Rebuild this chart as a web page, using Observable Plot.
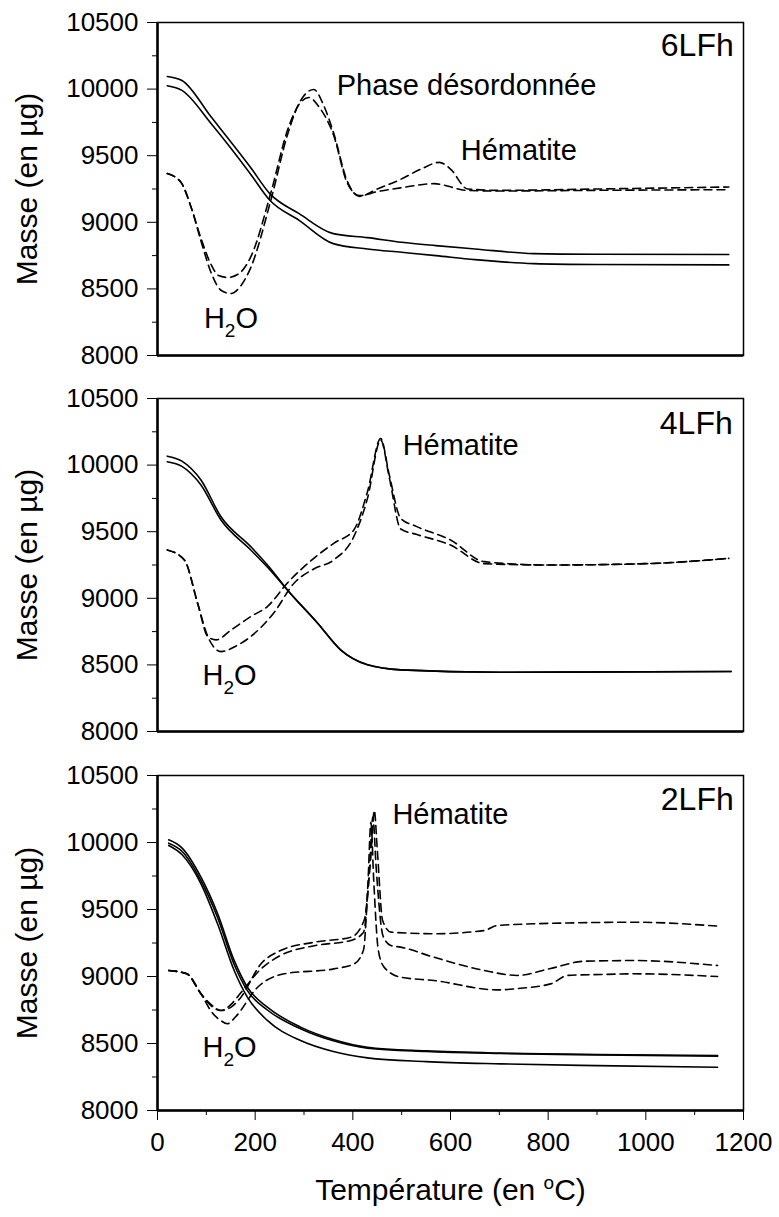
<!DOCTYPE html>
<html><head><meta charset="utf-8">
<script src="https://cdn.jsdelivr.net/npm/d3@7"></script>
<script src="https://cdn.jsdelivr.net/npm/@observablehq/plot@0.6"></script>
<style>
body{margin:0;background:#fff}
#chart svg{display:block;background:#fff}
</style>
</head><body><div id="chart"></div>
<script>
// ---------- data ----------
const panels = ["6LFh", "4LFh", "2LFh"];
const yMajor = [8000, 8500, 9000, 9500, 10000, 10500];
const yMinor = [8250, 8750, 9250, 9750, 10250];
const xMajor = [0, 200, 400, 600, 800, 1000, 1200];
const xMinor = [100, 300, 500, 700, 900, 1100];

// 6LFh
const T6_s1 = [20, 50, 110, 190, 230, 290, 360, 430, 500, 570, 650, 770, 900, 1170];
const M6_s1 = [10095, 10065, 9790, 9415, 9215, 9065, 8915, 8885, 8850, 8825, 8800, 8765, 8760, 8758];
const T6_s2 = [20, 50, 110, 190, 230, 290, 360, 430, 500, 570, 650, 770, 900, 1170];
const M6_s2 = [10025, 9990, 9740, 9365, 9165, 9015, 8840, 8800, 8775, 8750, 8720, 8690, 8683, 8680];
const T6_d1 = [20, 48, 70, 89, 110, 130, 150, 170, 191, 232, 267, 293, 320, 340, 361, 388, 414, 450, 493, 540, 577, 600, 635, 700, 900, 1170];
const M6_d1 = [9366, 9300, 9100, 8860, 8620, 8490, 8465, 8520, 8660, 9164, 9667, 9914, 9997, 9880, 9667, 9314, 9195, 9250, 9314, 9400, 9450, 9400, 9250, 9240, 9250, 9265];
const T6_d2 = [20, 48, 70, 89, 110, 125, 144, 165, 191, 232, 267, 293, 310, 330, 361, 388, 414, 450, 500, 566, 635, 700, 900, 1170];
const M6_d2 = [9366, 9300, 9100, 8880, 8680, 8600, 8586, 8610, 8740, 9220, 9700, 9900, 9937, 9870, 9650, 9300, 9200, 9230, 9260, 9290, 9239, 9235, 9240, 9245];

// 4LFh
const T4_s1 = [20, 50, 89, 130, 191, 230, 266, 328, 375, 430, 498, 700, 1175];
const M4_s1 = [10067, 10030, 9888, 9612, 9388, 9230, 9063, 8813, 8613, 8501, 8463, 8445, 8450];
const T4_s2 = [20, 50, 89, 130, 191, 230, 266, 328, 375, 430, 498, 700, 1175];
const M4_s2 = [10025, 9990, 9850, 9588, 9363, 9215, 9063, 8813, 8613, 8501, 8463, 8445, 8450];
const T4_d1 = [20, 55, 82, 103, 130, 160, 191, 238, 280, 320, 361, 402, 430, 457, 475, 498, 530, 600, 669, 800, 1000, 1170];
const M4_d1 = [9363, 9288, 8965, 8713, 8600, 8640, 8713, 8890, 9115, 9220, 9288, 9463, 9750, 10188, 9900, 9520, 9480, 9400, 9260, 9250, 9260, 9300];
const T4_d2 = [20, 55, 82, 103, 120, 150, 191, 225, 266, 320, 361, 402, 430, 457, 475, 498, 530, 600, 669, 800, 1000, 1170];
const M4_d2 = [9363, 9288, 8965, 8713, 8688, 8760, 8863, 8938, 9115, 9300, 9413, 9513, 9800, 10200, 9920, 9600, 9540, 9438, 9275, 9250, 9260, 9300];

// 2LFh
const T2_s1 = [23, 50, 89, 123, 157, 184, 225, 293, 360, 430, 550, 703, 900, 1147];
const M2_s1 = [10020, 9960, 9741, 9470, 9120, 8920, 8771, 8622, 8530, 8472, 8445, 8428, 8418, 8410];
const T2_s2 = [23, 50, 89, 123, 157, 184, 225, 293, 360, 430, 550, 703, 900, 1147];
const M2_s2 = [9995, 9935, 9715, 9440, 9090, 8895, 8750, 8610, 8520, 8465, 8440, 8425, 8415, 8405];
const T2_s3 = [23, 50, 89, 123, 157, 184, 225, 293, 360, 430, 550, 703, 900, 1147];
const M2_s3 = [9978, 9910, 9692, 9393, 9045, 8846, 8672, 8522, 8440, 8393, 8365, 8348, 8335, 8323];
const T2_d1 = [23, 60, 89, 110, 130, 150, 171, 212, 252, 321, 396, 423, 437, 444, 450, 461, 478, 566, 669, 696, 850, 976, 1147];
const M2_d1 = [9045, 9020, 8871, 8790, 8746, 8770, 8846, 9095, 9194, 9256, 9293, 9418, 9900, 10239, 9950, 9418, 9331, 9319, 9343, 9381, 9400, 9405, 9376];
const T2_d2 = [23, 60, 89, 110, 130, 150, 171, 212, 252, 321, 396, 422, 434, 441, 448, 462, 478, 498, 566, 669, 737, 805, 874, 976, 1147];
const M2_d2 = [9045, 9020, 8871, 8780, 8746, 8790, 8880, 9057, 9157, 9230, 9269, 9330, 9800, 10190, 9800, 9300, 9231, 9219, 9144, 9045, 9008, 9060, 9114, 9119, 9082];
const T2_d3 = [23, 60, 89, 110, 130, 143, 160, 205, 259, 361, 403, 422, 431, 437, 443, 452, 464, 498, 566, 696, 737, 805, 840, 908, 976, 1147];
const M2_d3 = [9045, 9020, 8871, 8740, 8670, 8647, 8700, 8920, 9020, 9057, 9095, 9200, 9700, 10150, 9700, 9200, 9070, 8995, 8970, 8900, 8910, 8945, 9008, 9015, 9020, 9000];

// annotations (panel, T, mass, text)
const annPanel = ["6LFh", "6LFh", "6LFh", "6LFh", "4LFh", "4LFh", "4LFh", "2LFh", "2LFh", "2LFh"];
const annT     = [1180, 367, 621, 95, 1178, 502, 92, 1180, 481, 92];
const annM     = [10252, 9952, 9464, 8203, 10237, 10075, 8351, 10239, 10139, 8398];
const annText  = ["6LFh", "Phase désordonnée", "Hématite", "H2O", "4LFh", "Hématite", "H2O", "2LFh", "Hématite", "H2O"];

const yTitle = "Masse (en µg)";
const xTitle = "Température (en oC)";

// ---------- build ----------
function series(panel, id, dashed, T, M) {
  return T.map((t, i) => ({panel, id, dashed, T: t, M: M[i]}));
}
const rows = [
  ...series("6LFh", "s1", false, T6_s1, M6_s1), ...series("6LFh", "s2", false, T6_s2, M6_s2),
  ...series("6LFh", "d1", true, T6_d1, M6_d1), ...series("6LFh", "d2", true, T6_d2, M6_d2),
  ...series("4LFh", "s1", false, T4_s1, M4_s1), ...series("4LFh", "s2", false, T4_s2, M4_s2),
  ...series("4LFh", "d1", true, T4_d1, M4_d1), ...series("4LFh", "d2", true, T4_d2, M4_d2),
  ...series("2LFh", "s1", false, T2_s1, M2_s1), ...series("2LFh", "s2", false, T2_s2, M2_s2),
  ...series("2LFh", "s3", false, T2_s3, M2_s3),
  ...series("2LFh", "d1", true, T2_d1, M2_d1), ...series("2LFh", "d2", true, T2_d2, M2_d2),
  ...series("2LFh", "d3", true, T2_d3, M2_d3)
];
const anns = annText.map((t, i) => ({panel: annPanel[i], T: annT[i], M: annM[i], text: t, isName: panels.includes(t)}));

const FONT = "'Liberation Sans', Arial, Helvetica, sans-serif";
const layout = {
  "6LFh": {height: 376, marginTop: 22, marginBottom: 21, showX: false},
  "4LFh": {height: 377, marginTop: 22, marginBottom: 22, showX: false},
  "2LFh": {height: 464, marginTop: 22, marginBottom: 107, showX: true}
};

const chart = document.getElementById("chart");
for (const p of panels) {
  const L = layout[p];
  const data = rows.filter(d => d.panel === p);
  const a = anns.filter(d => d.panel === p);
  const marks = [
    Plot.axisY({ticks: yMajor, tickSize: 10, tickPadding: 9, fontSize: 26, label: null, tickFormat: d => String(d)}),
    Plot.axisY({ticks: yMinor, tickSize: 5, label: null, tickFormat: () => ""}),
    Plot.frame({stroke: "black", strokeWidth: 1.5}),
    Plot.ruleX([0], {stroke: "black", strokeWidth: 2.5}),
    Plot.ruleY([8000], {stroke: "black", strokeWidth: 2.5}),
    Plot.line(data.filter(d => !d.dashed), {x: "T", y: "M", z: "id", stroke: "black", strokeWidth: 1.6, curve: "monotone-x"}),
    Plot.line(data.filter(d => d.dashed), {x: "T", y: "M", z: "id", stroke: "black", strokeWidth: 1.6, strokeDasharray: "8,5", curve: "monotone-x"}),
    Plot.text(a.filter(d => !d.isName), {x: "T", y: "M", text: "text", textAnchor: "start", lineAnchor: "bottom", fontSize: 29, fill: "black"}),
    Plot.text(a.filter(d => d.isName), {x: "T", y: "M", text: "text", textAnchor: "end", lineAnchor: "bottom", fontSize: 32, fill: "black"}),
    Plot.text([yTitle], {frameAnchor: "left", dx: -130, rotate: -90, textAnchor: "middle", lineAnchor: "middle", fontSize: 30, fill: "black"})
  ];
  if (L.showX) {
    marks.push(
      Plot.axisX({ticks: xMajor, tickSize: 10, tickPadding: 12, fontSize: 26, label: null, tickFormat: d => String(d)}),
      Plot.axisX({ticks: xMinor, tickSize: 5, label: null, tickFormat: () => ""}),
      Plot.text([xTitle], {frameAnchor: "bottom", dy: 80, textAnchor: "middle", lineAnchor: "middle", fontSize: 30, fill: "black"})
    );
  }
  const svg = Plot.plot({
    width: 779,
    height: L.height,
    marginLeft: 157,
    marginRight: 36,
    marginTop: L.marginTop,
    marginBottom: L.marginBottom,
    style: {fontFamily: FONT, color: "black", background: "white"},
    x: {domain: [0, 1200], axis: L.showX ? undefined : null},
    y: {domain: [8000, 10500]},
    marks
  });
  // subscripts / superscripts as real text
  svg.querySelectorAll("text").forEach(t => {
    if (t.textContent === "H2O") {
      t.textContent = "H";
      const s = document.createElementNS("http://www.w3.org/2000/svg", "tspan");
      s.setAttribute("dy", "9"); s.setAttribute("font-size", "19"); s.textContent = "2";
      const o = document.createElementNS("http://www.w3.org/2000/svg", "tspan");
      o.setAttribute("dy", "-9"); o.textContent = "O";
      t.appendChild(s); t.appendChild(o);
    } else if (t.textContent === xTitle) {
      t.textContent = "Température (en ";
      const s = document.createElementNS("http://www.w3.org/2000/svg", "tspan");
      s.setAttribute("dy", "-11"); s.setAttribute("font-size", "19"); s.textContent = "o";
      const o = document.createElementNS("http://www.w3.org/2000/svg", "tspan");
      o.setAttribute("dy", "11"); o.textContent = "C)";
      t.appendChild(s); t.appendChild(o);
    }
  });
  chart.appendChild(svg);
}
</script></body></html>
